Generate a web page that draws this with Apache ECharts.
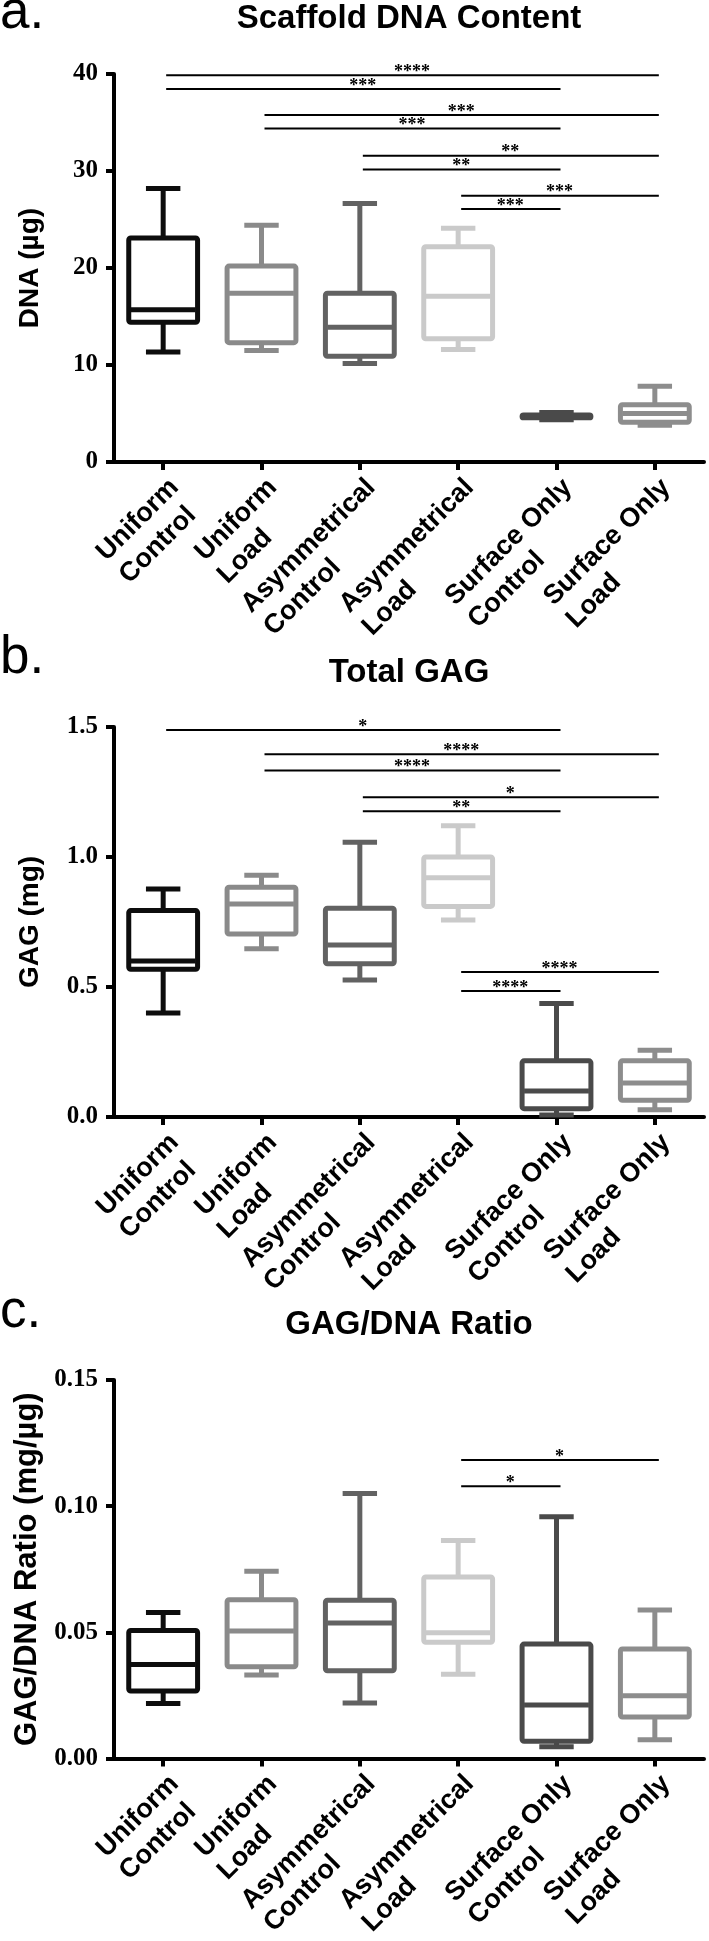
<!DOCTYPE html>
<html>
<head>
<meta charset="utf-8">
<script src="https://cdn.jsdelivr.net/npm/echarts@6/dist/echarts.min.js"></script>
<style>html,body{margin:0;padding:0;background:#fff}#c{width:709px;height:1941px}</style>
</head>
<body>
<div id="c"></div>
<script>
// ---- data ----
const categories = ['Uniform\nControl', 'Uniform\nLoad', 'Asymmetrical\nControl', 'Asymmetrical\nLoad', 'Surface Only\nControl', 'Surface Only\nLoad'];
const boxColors = ['#0d0d0d', '#8a8a8a', '#626262', '#cacaca', '#4a4a4a', '#8d8d8d'];

// [min, Q1, median, Q3, max]
const dnaBoxes = [
  [11.35, 14.4, 15.7, 23.1, 28.2],
  [11.5, 12.3, 17.4, 20.2, 24.4],
  [10.15, 10.9, 13.9, 17.4, 26.65],
  [11.6, 12.7, 17.1, 22.2, 24.1],
  [4.35, 4.55, 4.7, 4.85, 5.1],
  [3.8, 4.1, 5.0, 5.9, 7.8]
];
const gagBoxes = [
  [0.40, 0.568, 0.60, 0.794, 0.877],
  [0.647, 0.704, 0.819, 0.884, 0.93],
  [0.527, 0.589, 0.662, 0.803, 1.057],
  [0.758, 0.81, 0.92, 1.0, 1.12],
  [0.008, 0.032, 0.10, 0.216, 0.437],
  [0.028, 0.064, 0.131, 0.216, 0.257]
];
const ratioBoxes = [
  [0.0218, 0.0267, 0.0372, 0.0507, 0.0578],
  [0.0331, 0.0363, 0.0505, 0.0629, 0.0742],
  [0.022, 0.0347, 0.0537, 0.0627, 0.105],
  [0.0334, 0.046, 0.0498, 0.0719, 0.0864],
  [0.0046, 0.0068, 0.0212, 0.0453, 0.0958],
  [0.0074, 0.0164, 0.0248, 0.0434, 0.0588]
];

// significance bars: [fromCategory, toCategory, height]
const dnaSig = [[0,5,39.86],[0,4,38.45],[1,5,35.77],[1,4,34.39],[2,5,31.57],[2,4,30.16],[3,5,27.45],[3,4,26.07]];
const dnaStars = ['****','***','***','***','**','**','***','***'];
const gagSig = [[0,4,1.488],[1,5,1.395],[1,4,1.333],[2,5,1.23],[2,4,1.176],[3,5,0.558],[3,4,0.485]];
const gagStars = ['*','****','****','*','**','****','****'];
const ratioSig = [[3,5,0.1183],[3,4,0.1079]];
const ratioStars = ['*','*'];

const dnaTicks = ['0','10','20','30','40'];
const gagTicks = ['0.0','0.5','1.0','1.5'];
const ratioTicks = ['0.00','0.05','0.10','0.15'];

const titles = ['Scaffold DNA Content', 'Total GAG', 'GAG/DNA Ratio'];
const panelLetters = ['a.', 'b.', 'c.'];
const yNames = ['DNA (\u00b5g)', 'GAG (mg)', 'GAG/DNA Ratio (mg/\u00b5g)'];

// ---- chart ----
const SANS = '"Liberation Sans", Arial, Helvetica, sans-serif';
const SERIF = '"Liberation Serif", "Times New Roman", serif';

function boxRender(params, api) {
  const i = api.value(0);
  const pMin = api.coord([i, api.value(1)]);
  const pQ1 = api.coord([i, api.value(2)]);
  const pMed = api.coord([i, api.value(3)]);
  const pQ3 = api.coord([i, api.value(4)]);
  const pMax = api.coord([i, api.value(5)]);
  const band = api.size([1, 0])[0];
  const bw = band * 0.7, cw = band * 0.35;
  const x = pMed[0];
  const color = boxColors[params.dataIndex];
  const st = {stroke: color, lineWidth: 5, fill: null, lineJoin: 'round', lineCap: 'butt'};
  return {type: 'group', children: [
    {type: 'line', shape: {x1: x, y1: pMax[1], x2: x, y2: pQ3[1]}, style: st},
    {type: 'line', shape: {x1: x, y1: pQ1[1], x2: x, y2: pMin[1]}, style: st},
    {type: 'line', shape: {x1: x - cw / 2, y1: pMax[1], x2: x + cw / 2, y2: pMax[1]}, style: st},
    {type: 'line', shape: {x1: x - cw / 2, y1: pMin[1], x2: x + cw / 2, y2: pMin[1]}, style: st},
    {type: 'rect', shape: {x: x - bw / 2, y: pQ3[1], width: bw, height: pQ1[1] - pQ3[1], r: 2},
      style: Object.assign({}, st, {fill: '#fff'})},
    {type: 'line', shape: {x1: x - bw / 2 + 2, y1: pMed[1], x2: x + bw / 2 - 2, y2: pMed[1]}, style: st}
  ]};
}

function sigRenderFor(stars) {
  return function (params, api) {
    const a = api.coord([api.value(0), api.value(2)]);
    const b = api.coord([api.value(1), api.value(2)]);
    return {type: 'group', children: [
      {type: 'line', shape: {x1: a[0] + 3, y1: a[1], x2: b[0] + 4, y2: b[1]}, style: {stroke: '#000', lineWidth: 2}},
      {type: 'text', x: (a[0] + b[0]) / 2 + 3, y: a[1] - 3,
        style: {text: stars[params.dataIndex], fill: '#000', font: 'bold 18px ' + SERIF, align: 'center', verticalAlign: 'middle'}}
    ]};
  };
}

const grids = [
  {left: 114, right: 5, top: 74, height: 388},
  {left: 114, right: 5, top: 727, height: 390},
  {left: 114, right: 5, top: 1380, height: 389}
];
const yScales = [
  {max: 40, interval: 10, ticks: dnaTicks, gap: 70, nameSize: 28},
  {max: 1.5, interval: 0.5, ticks: gagTicks, gap: 70, nameSize: 28},
  {max: 0.15, interval: 0.05, ticks: ratioTicks, gap: 66, nameSize: 31}
];
const titleY = [2, 656, 1308];
const letterY = [17, 662, 1316];

const boxSets = [dnaBoxes, gagBoxes, ratioBoxes];
const sigSets = [dnaSig, gagSig, ratioSig];
const starSets = [dnaStars, gagStars, ratioStars];

const labelRich = {l: {align: 'left', fontFamily: SANS, fontWeight: 'bold', fontSize: 27, color: '#000', lineHeight: 32}};

const option = {
  backgroundColor: '#fff',
  animation: false,
  title: titles.map((t, k) => ({
    text: t, left: 409, top: titleY[k], textAlign: 'center', padding: 0,
    textStyle: {fontFamily: SANS, fontWeight: 'bold', fontSize: 33, color: '#000'}
  })),
  graphic: panelLetters.map((l, k) => ({
    type: 'text', left: 0, top: letterY[k] - 30,
    style: {text: l, fill: '#000', font: '53px ' + SANS}
  })),
  grid: grids,
  xAxis: grids.map((g, k) => ({
    type: 'category', gridIndex: k, data: categories, boundaryGap: true,
    axisLine: {show: true, onZero: false, lineStyle: {color: '#000', width: 4}},
    axisTick: {show: true, alignWithLabel: true, length: 8, lineStyle: {color: '#000', width: 4}},
    axisLabel: {interval: 0, rotate: 45, margin: 10, verticalAlign: 'top',
      fontFamily: SANS, fontWeight: 'bold', fontSize: 27, color: '#000', lineHeight: 32,
      formatter: v => v.split('\n').map(s => '{l|' + s + '}').join('\n'),
      rich: labelRich},
    splitLine: {show: false}
  })),
  yAxis: yScales.map((s, k) => ({
    type: 'value', gridIndex: k, min: 0, max: s.max, interval: s.interval,
    name: yNames[k], nameLocation: 'middle', nameGap: s.gap, nameRotate: 90,
    nameTextStyle: {fontFamily: SANS, fontWeight: 'bold', fontSize: s.nameSize, color: '#000'},
    axisLine: {show: true, lineStyle: {color: '#000', width: 4}},
    axisTick: {show: true, length: 8, lineStyle: {color: '#000', width: 4}},
    axisLabel: {fontFamily: SERIF, fontWeight: 'bold', fontSize: 25, color: '#000', margin: 16,
      formatter: v => s.ticks[Math.round(v / s.interval)]},
    splitLine: {show: false}
  })),
  series: [].concat(
    boxSets.map((b, k) => ({
      type: 'custom', xAxisIndex: k, yAxisIndex: k, renderItem: boxRender,
      encode: {x: 0, y: [1, 2, 3, 4, 5]},
      data: b.map((v, i) => [i].concat(v)), clip: false, z: 3
    })),
    sigSets.map((s, k) => ({
      type: 'custom', xAxisIndex: k, yAxisIndex: k, renderItem: sigRenderFor(starSets[k]),
      encode: {x: [0, 1], y: 2}, data: s, clip: false, z: 4
    }))
  )
};

const chart = echarts.init(document.getElementById('c'), null, {renderer: 'canvas'});
chart.setOption(option);
</script>
</body>
</html>
